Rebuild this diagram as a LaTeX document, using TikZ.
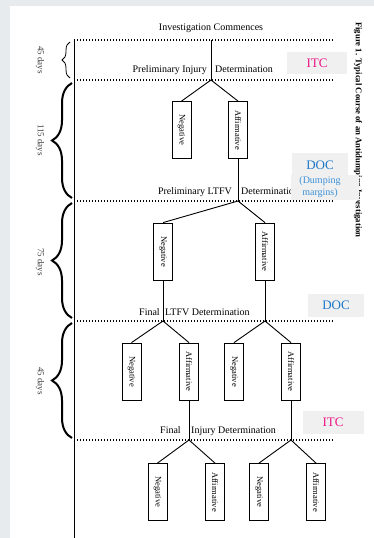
\documentclass[tikz,border=0pt]{standalone}
\usepackage{fontspec}
\setmainfont{Liberation Serif}
\usetikzlibrary{decorations.pathreplacing}
\definecolor{pagebg}{HTML}{E7EBEE}
\definecolor{boxbg}{HTML}{F0F0F0}
\definecolor{itcpink}{RGB}{236,22,135}
\definecolor{docblue}{RGB}{30,120,200}
\definecolor{dumpblue}{RGB}{60,145,215}
\tikzset{
  dotline/.style={line width=1.3pt, dash pattern=on 1.3pt off 1.7pt},
  conn/.style={line width=0.9pt},
  outcome/.style={draw, line width=0.8pt, fill=white, minimum width=19pt, minimum height=57pt, inner sep=0pt, font=\fontsize{8.5}{9}\selectfont},
  lbl/.style={font=\fontsize{10}{11}\selectfont, inner sep=0pt},
  days/.style={rotate=-90, font=\fontsize{9}{10}\selectfont, text=black!75, inner sep=0pt},
  tagbox/.style={fill=boxbg, draw=none},
  bracethin/.style={decorate, decoration={brace, amplitude=8pt}, line width=0.8pt},
  bracethick/.style={decorate, decoration={brace, amplitude=20pt}, line width=2pt}
}
\begin{document}
\begin{tikzpicture}[x=1pt,y=-1pt]
\fill[pagebg] (0,0) rectangle (374,538);
\fill[white] (10,6) rectangle (374,538);
\useasboundingbox (0,0) rectangle (374,538);

% caption
\node[rotate=-90, anchor=west, inner sep=0pt, font=\bfseries\fontsize{8.7}{10}\selectfont] (cap) at (358,22) {Figure 1. Typical Course of an Antidumping Investigation};

% timeline
\coordinate (T0) at (74,40);
\coordinate (Tend) at (74,538);
\draw[line width=1pt] (T0) -- (Tend);

% dotted levels
\coordinate (L0a) at (74,40);  \coordinate (L0b) at (333,40);
\coordinate (L1a) at (74,80);  \coordinate (L1b) at (333,80);
\coordinate (L2a) at (74,201); \coordinate (L2b) at (333,201);
\coordinate (L3a) at (74,321); \coordinate (L3b) at (333,321);
\coordinate (L4a) at (74,440); \coordinate (L4b) at (333,440);
\draw[dotline] (L0a) -- (L0b);
\draw[dotline] (L1a) -- (L1b);
\draw[dotline] (L2a) -- (L2b);
\draw[dotline] (L3a) -- (L3b);
\draw[dotline] (L4a) -- (L4b);

% braces and durations
\coordinate (B1a) at (70,78);  \coordinate (B1b) at (70,42);
\coordinate (B2a) at (72,198); \coordinate (B2b) at (72,83);
\coordinate (B3a) at (72,318); \coordinate (B3b) at (72,203);
\coordinate (B4a) at (72,438); \coordinate (B4b) at (72,323);
\draw[bracethin] (B1a) -- (B1b);
\draw[bracethick] (B2a) -- (B2b);
\draw[bracethick] (B3a) -- (B3b);
\draw[bracethick] (B4a) -- (B4b);
\node[days] (d1) at (40,60) {45 days};
\node[days] (d2) at (40,140) {115 days};
\node[days] (d3) at (40,262) {75 days};
\node[days] (d4) at (40,381) {45 days};

% texts
\node[lbl] (start) at (211,28) {Investigation Commences};
\node[lbl, anchor=base east] (pi1) at (207,72) {Preliminary Injury};
\node[lbl, anchor=base west] (pi2) at (215,72) {Determination};
\node[lbl, anchor=base east] (pl1) at (232,194) {Preliminary LTFV};
\node[lbl, anchor=base west] (pl2) at (241,194) {Determination};
\node[lbl, anchor=base west] (fl1) at (139,315) {Final};
\node[lbl, anchor=base west] (fl2) at (165,315) {LTFV Determination};
\node[lbl, anchor=base west] (fi1) at (160,433) {Final};
\node[lbl, anchor=base west] (fi2) at (191,433) {Injury Determination};

% junctions
\coordinate (J0) at (211,80);
\coordinate (J1) at (238,201);
\coordinate (J2a) at (163,321);
\coordinate (J2b) at (265,321);
\coordinate (J3a) at (189,440);
\coordinate (J3b) at (291,440);

% outcome boxes
\node[outcome] (n1) at (181.5,130) {\rotatebox{-90}{Negative}};
\node[outcome] (a1) at (238,130) {\rotatebox{-90}{Affirmative}};
\node[outcome] (n2) at (163,251.5) {\rotatebox{-90}{Negative}};
\node[outcome] (a2) at (265,251.5) {\rotatebox{-90}{Affirmative}};
\node[outcome] (n3a) at (131.5,371.5) {\rotatebox{-90}{Negative}};
\node[outcome] (a3a) at (189,371.5) {\rotatebox{-90}{Affirmative}};
\node[outcome] (n3b) at (234,371.5) {\rotatebox{-90}{Negative}};
\node[outcome] (a3b) at (291,371.5) {\rotatebox{-90}{Affirmative}};
\node[outcome] (n4a) at (157.5,492) {\rotatebox{-90}{Negative}};
\node[outcome] (a4a) at (215,492) {\rotatebox{-90}{Affirmative}};
\node[outcome] (n4b) at (259,492) {\rotatebox{-90}{Negative}};
\node[outcome] (a4b) at (316,492) {\rotatebox{-90}{Affirmative}};

% connectors
\draw[conn] (start.south |- L0a) -- (J0);
\draw[conn] (J0) -- (n1.north);
\draw[conn] (J0) -- (a1.north);
\draw[conn] (a1.south) -- (J1);
\draw[conn] (J1) -- (n2.north);
\draw[conn] (J1) -- (a2.north);
\draw[conn] (n2.south) -- (J2a);
\draw[conn] (a2.south) -- (J2b);
\draw[conn] (J2a) -- (n3a.north);
\draw[conn] (J2a) -- (a3a.north);
\draw[conn] (J2b) -- (n3b.north);
\draw[conn] (J2b) -- (a3b.north);
\draw[conn] (a3a.south) -- (J3a);
\draw[conn] (a3b.south) -- (J3b);
\draw[conn] (J3a) -- (n4a.north);
\draw[conn] (J3a) -- (a4a.north);
\draw[conn] (J3b) -- (n4b.north);
\draw[conn] (J3b) -- (a4b.north);

% agency tags
\fill[tagbox] (287,52) rectangle (347,74);
\node[text=itcpink, font=\fontsize{13}{14}\selectfont, inner sep=0pt] (itc1) at (317,63.5) {ITC};
\fill[tagbox] (292,153) rectangle (348,176);
\node[text=docblue, font=\fontsize{13}{14}\selectfont, inner sep=0pt] (doc1) at (320,165) {DOC};
\fill[tagbox] (291,175) rectangle (359,200);
\node[text=dumpblue, font=\fontsize{10}{12}\selectfont, inner sep=0pt, align=center] (dump) at (320,187.5) {(Dumping\\margins)};
\fill[tagbox] (308,294) rectangle (364,317);
\node[text=docblue, font=\fontsize{13}{14}\selectfont, inner sep=0pt] (doc2) at (336,305.5) {DOC};
\fill[tagbox] (303,411) rectangle (364,434);
\node[text=itcpink, font=\fontsize{13}{14}\selectfont, inner sep=0pt] (itc2) at (333,422.5) {ITC};
\end{tikzpicture}
\end{document}
